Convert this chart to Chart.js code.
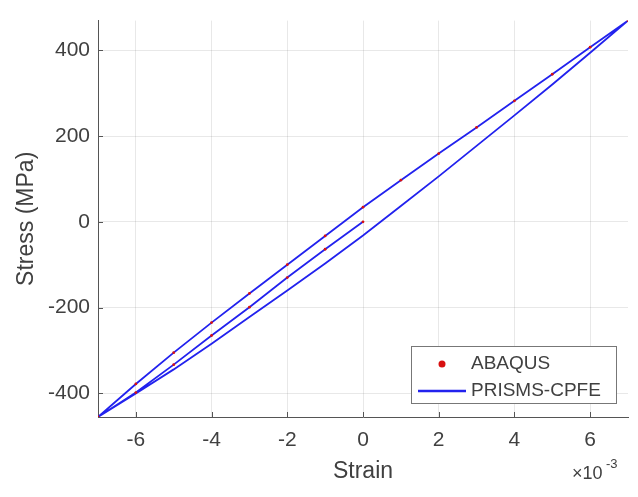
<!DOCTYPE html>
<html>
<head>
<meta charset="utf-8">
<script src="https://cdn.jsdelivr.net/npm/chart.js@4/dist/chart.umd.min.js"></script>
<style>
  html, body { margin: 0; padding: 0; background: #fff; }
  #wrap { width: 638px; height: 497px; position: relative; }
</style>
</head>
<body>
<div id="wrap"><canvas id="chart" width="638" height="497"></canvas></div>
<script>
// Strain values are in units of 1e-3 (axis multiplier), stress in MPa

// initial compression from origin (middle line)
const firstStrain = [0, -1, -2, -3, -4, -5, -6, -7];
const firstStress = [0, -64, -130, -199, -265, -333, -398, -455];

// reloading branch, compression tip -> tension tip (upper line)
const upStrain = [-7, -6, -5, -4, -3, -2, -1, 0, 1, 2, 3, 4, 5, 6, 7];
const upStress = [-455, -378, -305, -235, -167, -100, -33, 34, 97, 159, 220, 282, 344, 407, 469];

// unloading branch, tension tip -> compression tip (lower line)
const downStrain = [7, 6, 5, 4, 3, 2, 1, 0, -1, -2, -3, -4, -5, -6, -7];
const downStress = [469, 394, 320, 248, 177, 106, 37, -32, -97, -160, -222, -284, -344, -400, -455];

// ABAQUS points (overlaid on the first compression and reload)
const abaqusStrain = [0, -1, -2, -3, -4, -5, -6, -7, -6, -5, -4, -3, -2, -1, 0, 1, 2, 3, 4, 5, 6, 7];
const abaqusStress = [0, -64, -130, -199, -265, -333, -398, -455, -378, -305, -235, -167, -100, -33, 34, 97, 159, 220, 282, 344, 407, 469];

const xTicks = [-6, -4, -2, 0, 2, 4, 6];
const yTicks = [-400, -200, 0, 200, 400];

const seriesNames = ['ABAQUS', 'PRISMS-CPFE'];
const textColor = '#404040';
const fontFamily = '"Liberation Sans", Arial, Helvetica, sans-serif';

const toPts = (xs, ys) => xs.map((x, i) => ({ x: x, y: ys[i] }));

const prismsData = [].concat(
    toPts(firstStrain, firstStress),
    toPts(upStrain, upStress).slice(1),
    toPts(downStrain, downStress).slice(1)
);

// legend, exponent label and inward tick marks
const extras = {
    id: 'extras',
    afterDraw(chart) {
        const ctx = chart.ctx;
        const xs = chart.scales.x;
        const ys = chart.scales.y;
        const area = chart.chartArea;

        ctx.save();
        ctx.strokeStyle = '#555';
        ctx.lineWidth = 1;
        ctx.beginPath();
        xTicks.forEach(t => {
            const px = Math.round(xs.getPixelForValue(t)) + 0.5;
            ctx.moveTo(px, area.bottom);
            ctx.lineTo(px, area.bottom - 5);
        });
        yTicks.forEach(t => {
            const py = Math.round(ys.getPixelForValue(t)) + 0.5;
            ctx.moveTo(area.left, py);
            ctx.lineTo(area.left + 5, py);
        });
        ctx.stroke();

        // x10^-3 multiplier
        ctx.fillStyle = textColor;
        ctx.textBaseline = 'alphabetic';
        ctx.textAlign = 'left';
        ctx.font = '18px ' + fontFamily;
        ctx.fillText('\u00d710', 572, 479);
        ctx.font = '13px ' + fontFamily;
        ctx.fillText('-3', 606, 468);

        // legend box
        const bx = 411, by = 346, bw = 205, bh = 57;
        ctx.fillStyle = '#fff';
        ctx.fillRect(bx, by, bw, bh);
        ctx.strokeStyle = '#777';
        ctx.lineWidth = 1;
        ctx.strokeRect(bx + 0.5, by + 0.5, bw, bh);

        const ds = chart.data.datasets;
        ctx.fillStyle = ds[0].pointBackgroundColor;
        ctx.beginPath();
        ctx.arc(442, 364, 3.5, 0, Math.PI * 2);
        ctx.fill();

        ctx.strokeStyle = ds[1].borderColor;
        ctx.lineWidth = 2.5;
        ctx.beginPath();
        ctx.moveTo(418, 391);
        ctx.lineTo(466, 391);
        ctx.stroke();

        ctx.fillStyle = textColor;
        ctx.font = '19px ' + fontFamily;
        ctx.textBaseline = 'middle';
        ctx.fillText(seriesNames[0], 471, 364);
        ctx.fillText(seriesNames[1], 471, 391);
        ctx.restore();
    }
};

const ctx = document.getElementById('chart').getContext('2d');
new Chart(ctx, {
    type: 'scatter',
    data: {
        datasets: [
            {
                label: seriesNames[0],
                data: toPts(abaqusStrain, abaqusStress),
                showLine: false,
                pointRadius: 1.4,
                pointBackgroundColor: '#d81010',
                pointBorderWidth: 0,
                borderColor: '#d81010'
            },
            {
                label: seriesNames[1],
                data: prismsData,
                showLine: true,
                borderColor: '#2222ee',
                borderWidth: 1.8,
                pointRadius: 0,
                tension: 0
            }
        ]
    },
    options: {
        responsive: false,
        animation: false,
        layout: { padding: { left: 0, right: 10, top: 13, bottom: 0 } },
        plugins: {
            legend: { display: false },
            tooltip: { enabled: false }
        },
        scales: {
            x: {
                type: 'linear',
                min: -7,
                max: 7,
                afterBuildTicks: s => { s.ticks = xTicks.map(v => ({ value: v })); },
                afterFit: s => { s.height = 80; },
                ticks: {
                    color: textColor,
                    font: { family: fontFamily, size: 21 },
                    padding: 11,
                    maxRotation: 0
                },
                grid: { color: 'rgba(0,0,0,0.09)', drawTicks: false },
                border: { color: '#555', width: 1 },
                title: {
                    display: true,
                    text: 'Strain',
                    color: textColor,
                    font: { family: fontFamily, size: 23 },
                    padding: { top: 0, bottom: 12 }
                }
            },
            y: {
                type: 'linear',
                min: -455,
                max: 469,
                afterBuildTicks: s => { s.ticks = yTicks.map(v => ({ value: v })); },
                afterFit: s => { s.width = 98; },
                ticks: {
                    color: textColor,
                    font: { family: fontFamily, size: 21 },
                    padding: 8
                },
                grid: { color: 'rgba(0,0,0,0.09)', drawTicks: false },
                border: { color: '#555', width: 1 },
                title: {
                    display: true,
                    text: 'Stress (MPa)',
                    color: textColor,
                    font: { family: fontFamily, size: 23 },
                    padding: { top: 13, bottom: 0 }
                }
            }
        }
    },
    plugins: [extras]
});
</script>
</body>
</html>
